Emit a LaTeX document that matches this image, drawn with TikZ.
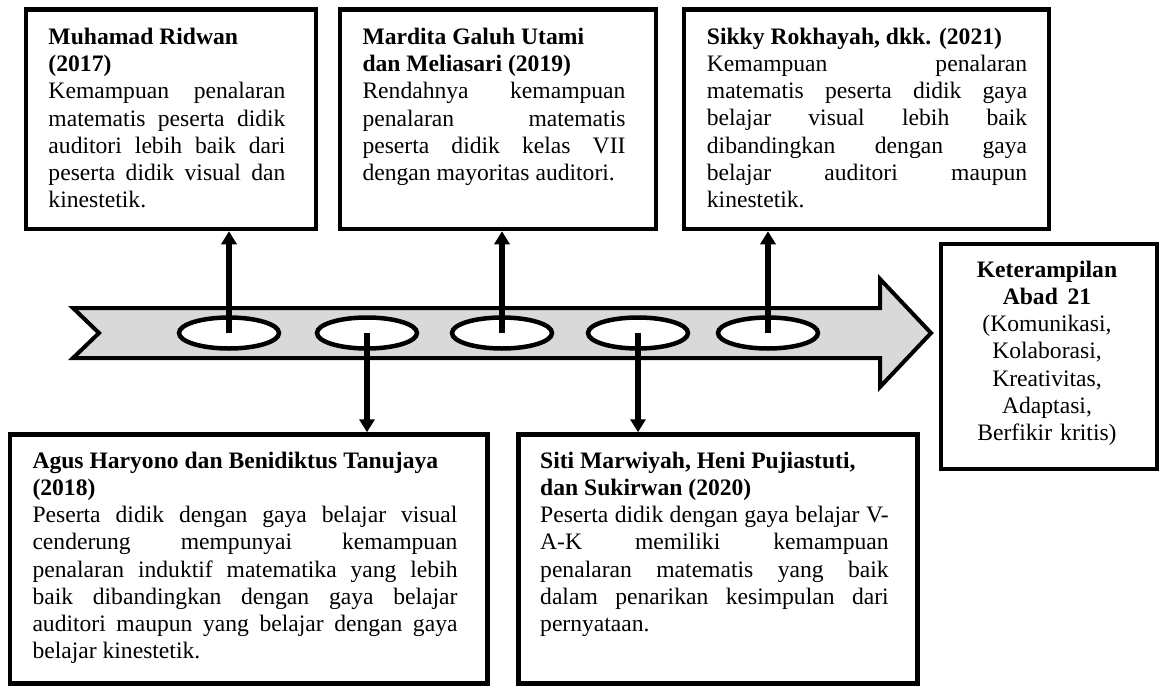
\documentclass[tikz,border=0pt]{standalone}
\usepackage{fontspec}
\setmainfont{Liberation Serif}
\usetikzlibrary{arrows.meta,shapes.geometric}
\setlength{\parindent}{0pt}
\newlength\JW
\newcommand\SpReset{\spaceskip=0pt\xspaceskip=0pt\relax}
\newcommand\JLine[1]{\makebox[\JW][s]{\SpReset #1}}
\begin{document}
\begin{tikzpicture}[x=1pt,y=-1pt,
  box/.style={draw=black,line width=4.5pt,fill=white,inner sep=0pt,rectangle},
  txt/.style={inner sep=0pt,anchor=north west,align=left,font=\fontsize{23.6}{27.2}\selectfont},
  oval/.style={ellipse,draw=black,line width=4.5pt,fill=white,minimum width=100pt,minimum height=31pt,inner sep=0pt},
  conn/.style={line width=5.5pt,-{Triangle[length=13pt,width=15pt]}},
  band/.style={draw=black,line width=4pt,fill=black!15,line join=miter}]
\useasboundingbox (0,0) rectangle (1163,686);
\fill[white] (0,0) rectangle (1163,686);

% timeline arrow
\draw[band] (73,308) -- (880,308) -- (880,279) -- (931,333) -- (880,387) -- (880,358) -- (73,358) -- (99,333) -- cycle;

% boxes
\node[box,minimum width=290pt,minimum height=219.5pt] (b1) at (170.8,119.25) {};
\node[box,minimum width=315.8pt,minimum height=219.5pt] (b2) at (497.9,119.25) {};
\node[box,minimum width=365pt,minimum height=219.5pt] (b3) at (866.7,119.25) {};
\node[box,minimum width=216.2pt,minimum height=225pt] (b4) at (1048.9,356.7) {};
\node[box,minimum width=477.5pt,minimum height=249pt] (b5) at (248.75,559) {};
\node[box,minimum width=399pt,minimum height=249pt] (b6) at (718,559) {};

% ovals on the timeline
\node[oval] (e1) at (229,333) {};
\node[oval] (e2) at (367,333) {};
\node[oval] (e3) at (502,333) {};
\node[oval] (e4) at (638,333) {};
\node[oval] (e5) at (768,333) {};

% connectors
\draw[conn] (e1.center) -- (e1.center |- b1.south);
\draw[conn] (e3.center) -- (e3.center |- b2.south);
\draw[conn] (e5.center) -- (e5.center |- b3.south);
\draw[conn] (e2.center) -- (e2.center |- b5.north);
\draw[conn] (e4.center) -- (e4.center |- b6.north);

% texts
\node[txt,text width=237pt] (t1) at (48.3,25.3) {\SpReset\setlength{\JW}{237pt}\strut\textbf{Muhamad Ridwan}\\
\textbf{(2017)}\\
\JLine{Kemampuan penalaran}\\
\JLine{matematis peserta didik}\\
\JLine{auditori lebih baik dari}\\
\JLine{peserta didik visual dan}\\
kinestetik.};

\node[txt,text width=263pt] (t2) at (362.3,25.3) {\SpReset\setlength{\JW}{263pt}\strut\textbf{Mardita Galuh Utami}\\
\textbf{dan Meliasari (2019)}\\
\JLine{Rendahnya kemampuan}\\
\JLine{penalaran matematis}\\
\JLine{peserta didik kelas VII}\\
dengan mayoritas auditori.};

\node[txt,text width=320.3pt] (t3) at (706.7,25) {\SpReset\setlength{\JW}{320.3pt}\strut\textbf{Sikky Rokhayah, dkk. (2021)}\\
\JLine{Kemampuan penalaran}\\
\JLine{matematis peserta didik gaya}\\
\JLine{belajar visual lebih baik}\\
\JLine{dibandingkan dengan gaya}\\
\JLine{belajar auditori maupun}\\
kinestetik.};

\node[txt,anchor=north,align=center,text width=210pt] (t4) at (1047,258) {\SpReset\strut\textbf{Keterampilan}\\
\textbf{Abad 21}\\
(Komunikasi,\\
Kolaborasi,\\
Kreativitas,\\
Adaptasi,\\
Berfikir kritis)};

\node[txt,text width=425pt] (t5) at (32.3,449) {\SpReset\setlength{\JW}{425pt}\strut\textbf{Agus Haryono dan Benidiktus Tanujaya}\\
\textbf{(2018)}\\
\JLine{Peserta didik dengan gaya belajar visual}\\
\JLine{cenderung mempunyai kemampuan}\\
\JLine{penalaran induktif matematika yang lebih}\\
\JLine{baik dibandingkan dengan gaya belajar}\\
\JLine{auditori maupun yang belajar dengan gaya}\\
belajar kinestetik.};

\node[txt,text width=348.5pt] (t6) at (540,449) {\SpReset\setlength{\JW}{348.5pt}\strut\textbf{Siti Marwiyah, Heni Pujiastuti,}\\
\textbf{dan Sukirwan (2020)}\\
\JLine{Peserta didik dengan gaya belajar V-}\\
\JLine{A-K memiliki kemampuan}\\
\JLine{penalaran matematis yang baik}\\
\JLine{dalam penarikan kesimpulan dari}\\
pernyataan.};
\end{tikzpicture}
\end{document}
